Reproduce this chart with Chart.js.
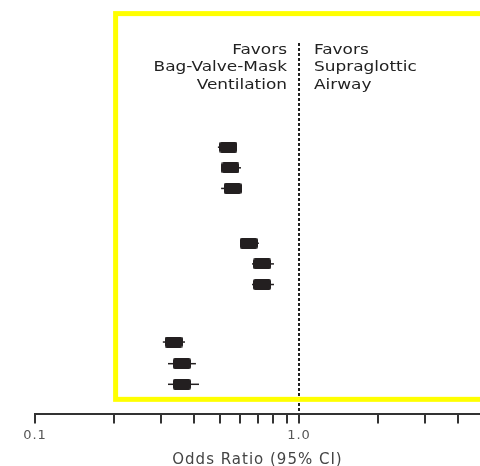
<!DOCTYPE html>
<html>
<head>
<meta charset="utf-8">
<script src="https://cdn.jsdelivr.net/npm/chart.js@4.4.1/dist/chart.umd.min.js"></script>
<style>
  html, body { margin: 0; padding: 0; background: #fff; }
  #wrap { width: 480px; height: 466px; }
</style>
</head>
<body>
<div id="wrap"><canvas id="c"></canvas></div>
<script>
// Row positions (top to bottom) for the three groups of estimates
const rows = [1, 2, 3, 5.66, 6.66, 7.66, 10.45, 11.5, 12.5];
// Odds ratios with 95% confidence limits
const oddsRatio = [0.54, 0.55, 0.56, 0.645, 0.725, 0.725, 0.335, 0.36, 0.36];
const ciLower   = [0.493, 0.51, 0.507, 0.60, 0.664, 0.664, 0.305, 0.319, 0.319];
const ciUpper   = [0.582, 0.603, 0.60, 0.705, 0.804, 0.804, 0.37, 0.407, 0.418];
// Axis ticks and labelled ticks
const tickValues = [0.1, 0.2, 0.3, 0.4, 0.5, 0.6, 0.7, 0.8, 0.9, 1, 2, 3, 4];
const tickLabels = { '0.1': '0.1', '1': '1.0' };
const axisTitle = 'Odds Ratio (95% CI)';
// Direction notes on either side of the null line
const leftNote  = ['Favors', 'Bag-Valve-Mask', 'Ventilation'];
const rightNote = ['Favors', 'Supraglottic', 'Airway'];
const noteRows  = [-3.7, -2.85, -2.0];
// Extent of the highlight frame and the null line (axis units)
const frame = { left: 0.202, top: -5.48, bottom: 13.23 };
const nullLineTop = -4.05;

// Box marker used for each estimate
const marker = document.createElement('canvas');
marker.width = 18; marker.height = 11;
(function () {
  const m = marker.getContext('2d');
  m.fillStyle = '#231f20';
  m.beginPath();
  m.roundRect(0, 0, 18, 11, 2);
  m.fill();
})();

const forestExtras = {
  id: 'forestExtras',
  beforeDraw(chart) {
    // slightly spaced lettering for the axis text
    chart.ctx.letterSpacing = '1px';
  },
  beforeDatasetsDraw(chart) {
    const { ctx, scales: { x, y }, chartArea } = chart;
    ctx.save();
    // null line at OR = 1
    const x1 = Math.round(x.getPixelForValue(1));
    ctx.strokeStyle = '#222';
    ctx.lineWidth = 2;
    ctx.setLineDash([3, 2]);
    ctx.beginPath();
    ctx.moveTo(x1, y.getPixelForValue(nullLineTop));
    ctx.lineTo(x1, chartArea.bottom - 3);
    ctx.stroke();
    ctx.setLineDash([]);
    // confidence interval whiskers
    ctx.strokeStyle = '#231f20';
    ctx.lineWidth = 1.5;
    rows.forEach((r, i) => {
      const py = y.getPixelForValue(r);
      ctx.beginPath();
      ctx.moveTo(x.getPixelForValue(ciLower[i]), py);
      ctx.lineTo(x.getPixelForValue(ciUpper[i]), py);
      ctx.stroke();
    });
    ctx.restore();
  },
  afterDatasetsDraw(chart) {
    const { ctx, scales: { x, y } } = chart;
    ctx.save();
    ctx.letterSpacing = '0px';
    // notes
    const x1 = x.getPixelForValue(1);
    ctx.fillStyle = '#222';
    ctx.font = '14px "DejaVu Sans"';
    ctx.textBaseline = 'middle';
    const drawNote = (lines, px, align) => {
      ctx.textAlign = align;
      lines.forEach((t, i) => {
        ctx.save();
        ctx.translate(px, y.getPixelForValue(noteRows[i]));
        ctx.scale(1.21, 1);
        ctx.fillText(t, 0, 0);
        ctx.restore();
      });
    };
    drawNote(leftNote, x1 - 12, 'right');
    drawNote(rightNote, x1 + 15, 'left');
    // highlight frame
    ctx.strokeStyle = '#ffff00';
    ctx.lineWidth = 5;
    const fl = x.getPixelForValue(frame.left);
    const ft = y.getPixelForValue(frame.top);
    const fb = y.getPixelForValue(frame.bottom);
    ctx.strokeRect(fl, ft, chart.width + 20 - fl, fb - ft);
    ctx.restore();
  }
};

new Chart(document.getElementById('c'), {
  type: 'scatter',
  data: {
    datasets: [{
      data: rows.map((r, i) => ({ x: oddsRatio[i], y: r })),
      pointStyle: marker,
      pointRadius: 9,
      pointHoverRadius: 9
    }]
  },
  options: {
    responsive: true,
    maintainAspectRatio: false,
    animation: false,
    events: [],
    layout: { autoPadding: false, padding: { left: 35, right: 0, top: 0, bottom: -2 } },
    plugins: { legend: { display: false }, tooltip: { enabled: false } },
    scales: {
      x: {
        type: 'logarithmic',
        min: 0.1,
        max: 4.85,
        afterBuildTicks(scale) {
          scale.ticks = tickValues.map(v => ({ value: v }));
        },
        afterFit(scale) {
          scale.paddingLeft = 0;
          scale.paddingRight = 0;
        },
        grid: {
          display: true,
          drawOnChartArea: false,
          drawTicks: true,
          tickLength: 9,
          color: '#333',
          lineWidth: 2
        },
        border: { display: true, color: '#333', width: 2 },
        ticks: {
          autoSkip: false,
          maxRotation: 0,
          padding: 4,
          color: '#555',
          font: { family: '"DejaVu Sans"', size: 13 },
          callback(v) { return tickLabels[String(v)] || ''; }
        },
        title: {
          display: true,
          text: axisTitle,
          color: '#444',
          font: { family: '"DejaVu Sans"', size: 15, lineHeight: 1 },
          padding: { top: 6, bottom: 0 }
        }
      },
      y: {
        type: 'linear',
        display: false,
        reverse: true,
        min: -6.14,
        max: 13.96
      }
    }
  },
  plugins: [forestExtras]
});
</script>
</body>
</html>
